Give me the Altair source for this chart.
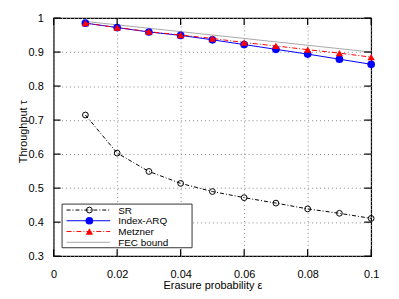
import altair as alt
import pandas as pd

eps = [0.01, 0.02, 0.03, 0.04, 0.05, 0.06, 0.07, 0.08, 0.09, 0.10]
sr = [0.715, 0.603, 0.549, 0.514, 0.490, 0.472, 0.456, 0.439, 0.426, 0.411]
index_arq = [0.985, 0.972, 0.959, 0.949, 0.936, 0.922, 0.908, 0.894, 0.879, 0.864]
metzner = [0.985, 0.972, 0.960, 0.950, 0.940, 0.928, 0.918, 0.907, 0.897, 0.885]
fec_bound = [0.99, 0.98, 0.97, 0.96, 0.95, 0.94, 0.93, 0.92, 0.91, 0.90]

series_names = ["SR", "Index-ARQ", "Metzner", "FEC bound"]
x_ticks = [0, 0.02, 0.04, 0.06, 0.08, 0.1]
y_ticks = [0.3, 0.4, 0.5, 0.6, 0.7, 0.8, 0.9, 1.0]

W, H = 320, 240
FONT = "Liberation Sans"

df = pd.DataFrame({"eps": eps, "SR": sr, "Index-ARQ": index_arq,
                   "Metzner": metzner, "FEC bound": fec_bound})

xscale = alt.Scale(domain=[0, 0.1], nice=False, zero=False)
yscale = alt.Scale(domain=[0.3, 1.0], nice=False, zero=False)

xaxis = alt.Axis(values=x_ticks, format="~g", title="Erasure probability ε",
                 grid=True, gridDash=[1, 3], gridColor="#888888", gridWidth=1,
                 ticks=False, tickSize=0, domain=False, labelPadding=21.5,
                 labelOverlap=False, labelFlush=False,
                 labelBaseline="alphabetic", labelFontSize=11, labelFont=FONT,
                 labelColor="black", titleFont=FONT, titleFontSize=11,
                 titleFontWeight="normal", titleColor="black",
                 titleBaseline="alphabetic", titleY=33, titleX=160)
yaxis = alt.Axis(values=y_ticks, format="~g", title="Throughput τ",
                 grid=True, gridDash=[1, 3], gridColor="#888888", gridWidth=1,
                 ticks=False, tickSize=0, domain=False, labelPadding=10.5,
                 labelOverlap=False, labelFlush=False,
                 labelFontSize=11, labelFont=FONT, labelColor="black",
                 titleFont=FONT, titleFontSize=11, titleFontWeight="normal",
                 titleColor="black", titleBaseline="alphabetic", titleAngle=270,
                 titleX=-27, titleY=114)

base = alt.Chart(df)
x_enc = alt.X("eps:Q", scale=xscale, axis=xaxis)

fec_line = base.mark_line(color="#a8a8a8", strokeWidth=1).encode(
    x=x_enc, y=alt.Y("FEC bound:Q", scale=yscale, axis=yaxis))
sr_line = base.mark_line(color="black", strokeWidth=1, strokeDash=[4, 2, 1, 2]).encode(
    x=x_enc, y=alt.Y("SR:Q", scale=yscale, axis=yaxis))
sr_pts = base.mark_point(shape="circle", size=34, filled=False, color="black",
                         strokeWidth=1, opacity=1).encode(
    x=x_enc, y=alt.Y("SR:Q", scale=yscale, axis=yaxis))
idx_line = base.mark_line(color="#0000ff", strokeWidth=1).encode(
    x=x_enc, y=alt.Y("Index-ARQ:Q", scale=yscale, axis=yaxis))
idx_pts = base.mark_point(shape="circle", size=60, filled=True, color="#0000ff",
                          opacity=1).encode(
    x=x_enc, y=alt.Y("Index-ARQ:Q", scale=yscale, axis=yaxis))
met_line = base.mark_line(color="#ff0000", strokeWidth=1, strokeDash=[5, 2, 1, 2]).encode(
    x=x_enc, y=alt.Y("Metzner:Q", scale=yscale, axis=yaxis))
met_pts = base.mark_point(shape="triangle-up", size=55, filled=True, color="#ff0000",
                          opacity=1).encode(
    x=x_enc, y=alt.Y("Metzner:Q", scale=yscale, axis=yaxis))

# inward ticks on all four sides
xt = alt.Chart(pd.DataFrame({"t": x_ticks}))
yt = alt.Chart(pd.DataFrame({"t": y_ticks}))
TL = 7
ticks = [
    xt.mark_rule(color="black", strokeWidth=1.2).encode(
        x=alt.X("t:Q", scale=xscale, axis=xaxis), y=alt.value(H), y2=alt.value(H - TL)),
    xt.mark_rule(color="black", strokeWidth=1.2).encode(
        x=alt.X("t:Q", scale=xscale, axis=xaxis), y=alt.value(0), y2=alt.value(TL)),
    yt.mark_rule(color="black", strokeWidth=1.2).encode(
        y=alt.Y("t:Q", scale=yscale, axis=yaxis), x=alt.value(0), x2=alt.value(TL)),
    yt.mark_rule(color="black", strokeWidth=1.2).encode(
        y=alt.Y("t:Q", scale=yscale, axis=yaxis), x=alt.value(W), x2=alt.value(W - TL)),
]

# legend (gnuplot style key box)
box = alt.Chart(pd.DataFrame({"k": [0]})).mark_rect(
    fill="white", stroke="#333333", strokeWidth=1).encode(
    x=alt.value(8.5), x2=alt.value(139.5), y=alt.value(187.5), y2=alt.value(231.5))

styles = {
    "SR": dict(color="black", dash=[4, 2, 1, 2], shape="circle", filled=False, size=34),
    "Index-ARQ": dict(color="#0000ff", dash=None, shape="circle", filled=True, size=60),
    "Metzner": dict(color="#ff0000", dash=[5, 2, 1, 2], shape="triangle-up", filled=True, size=55),
    "FEC bound": dict(color="#a8a8a8", dash=None, shape=None, filled=False, size=0),
}
legend_layers = [box]
row_y = [193.5, 204.3, 215.1, 226]
for name, ry in zip(series_names, row_y):
    st = styles[name]
    ld = alt.Chart(pd.DataFrame({"label": [name]}))
    rule_kw = dict(color=st["color"], strokeWidth=1)
    if st["dash"]:
        rule_kw["strokeDash"] = st["dash"]
    legend_layers.append(ld.mark_rule(**rule_kw).encode(
        x=alt.value(13), x2=alt.value(57), y=alt.value(ry)))
    if st["shape"]:
        legend_layers.append(ld.mark_point(shape=st["shape"], size=st["size"],
                                           filled=st["filled"], color=st["color"],
                                           opacity=1, strokeWidth=1).encode(
            x=alt.value(36), y=alt.value(ry)))
    legend_layers.append(ld.mark_text(align="left", baseline="middle", font=FONT,
                                      fontSize=10, color="black").encode(
        x=alt.value(65), y=alt.value(ry + 0.5), text="label:N"))

chart = alt.layer(
    fec_line, sr_line, sr_pts, idx_line, idx_pts, met_line, met_pts,
    *ticks, *legend_layers
).properties(
    width=W, height=H,
    autosize=alt.AutoSizeParams(type="none"),
    padding={"left": 46, "top": 9, "right": 20, "bottom": 36},
    background="white",
).configure_view(stroke="black", strokeWidth=1.2).configure_text(align="left")

chart.save("out.html", embed_options={"renderer": "svg", "actions": False})
